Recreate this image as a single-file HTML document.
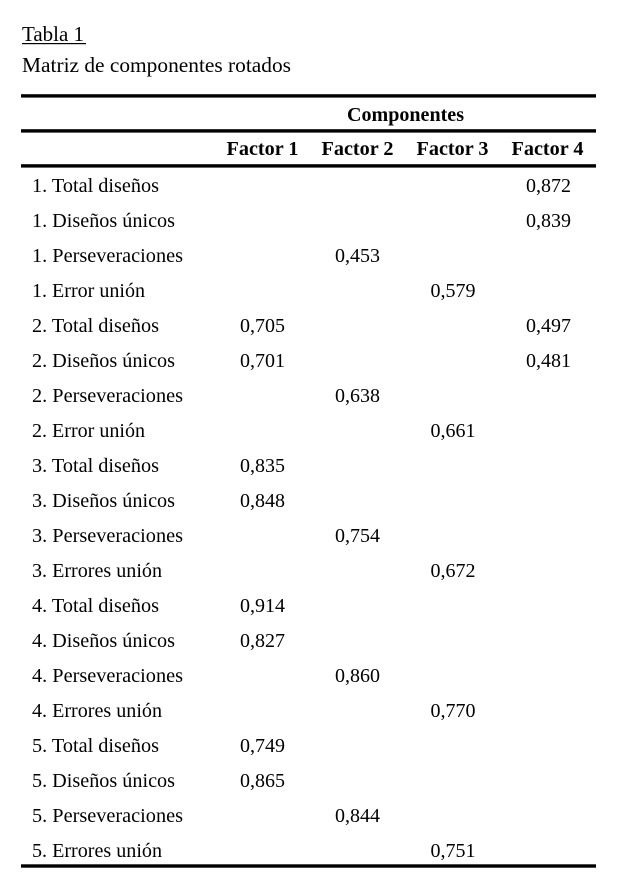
<!DOCTYPE html>
<html>
<head>
<meta charset="utf-8">
<style>
  html, body { margin:0; padding:0; background:#fff; }
  body { width:632px; height:887px; overflow:hidden; }
  svg { display:block; }
  text { font-family:"Liberation Serif", "Tinos", "Noto Serif CJK SC", "DejaVu Serif", serif; font-size:20px; fill:#000; }
  .b { font-weight:bold; }
  .m { text-anchor:middle; }
  .ti { font-size:21.5px; }
</style>
</head>
<body>
<svg width="632" height="887" viewBox="0 0 632 887" xmlns="http://www.w3.org/2000/svg">
  <rect x="0" y="0" width="632" height="887" fill="#fff"/>
  <text class="ti" x="22" y="41" textLength="62" lengthAdjust="spacingAndGlyphs">Tabla 1</text>
  <rect x="22" y="43" width="64" height="1.2" fill="#000"/>
  <text class="ti" x="22" y="72" textLength="269" lengthAdjust="spacingAndGlyphs">Matriz de componentes rotados</text>

  <rect x="21" y="94.2" width="575" height="3.4" fill="#000"/>
  <text class="b m" x="405.5" y="121" textLength="117" lengthAdjust="spacingAndGlyphs">Componentes</text>
  <rect x="21" y="129.2" width="575" height="3.4" fill="#000"/>
  <text class="b m" x="262.5" y="155" textLength="72" lengthAdjust="spacingAndGlyphs">Factor 1</text>
  <text class="b m" x="357.5" y="155" textLength="72" lengthAdjust="spacingAndGlyphs">Factor 2</text>
  <text class="b m" x="452.5" y="155" textLength="72" lengthAdjust="spacingAndGlyphs">Factor 3</text>
  <text class="b m" x="547.5" y="155" textLength="72" lengthAdjust="spacingAndGlyphs">Factor 4</text>
  <rect x="21" y="164.2" width="575" height="3.4" fill="#000"/>

  <!-- labels -->
  <text x="32" y="192" textLength="127" lengthAdjust="spacingAndGlyphs">1. Total diseños</text>
  <text x="32" y="227" textLength="143" lengthAdjust="spacingAndGlyphs">1. Diseños únicos</text>
  <text x="32" y="262" textLength="151" lengthAdjust="spacingAndGlyphs">1. Perseveraciones</text>
  <text x="32" y="297" textLength="113" lengthAdjust="spacingAndGlyphs">1. Error unión</text>
  <text x="32" y="332" textLength="127" lengthAdjust="spacingAndGlyphs">2. Total diseños</text>
  <text x="32" y="367" textLength="143" lengthAdjust="spacingAndGlyphs">2. Diseños únicos</text>
  <text x="32" y="402" textLength="151" lengthAdjust="spacingAndGlyphs">2. Perseveraciones</text>
  <text x="32" y="437" textLength="113" lengthAdjust="spacingAndGlyphs">2. Error unión</text>
  <text x="32" y="472" textLength="127" lengthAdjust="spacingAndGlyphs">3. Total diseños</text>
  <text x="32" y="507" textLength="143" lengthAdjust="spacingAndGlyphs">3. Diseños únicos</text>
  <text x="32" y="542" textLength="151" lengthAdjust="spacingAndGlyphs">3. Perseveraciones</text>
  <text x="32" y="577" textLength="130" lengthAdjust="spacingAndGlyphs">3. Errores unión</text>
  <text x="32" y="612" textLength="127" lengthAdjust="spacingAndGlyphs">4. Total diseños</text>
  <text x="32" y="647" textLength="143" lengthAdjust="spacingAndGlyphs">4. Diseños únicos</text>
  <text x="32" y="682" textLength="151" lengthAdjust="spacingAndGlyphs">4. Perseveraciones</text>
  <text x="32" y="717" textLength="130" lengthAdjust="spacingAndGlyphs">4. Errores unión</text>
  <text x="32" y="752" textLength="127" lengthAdjust="spacingAndGlyphs">5. Total diseños</text>
  <text x="32" y="787" textLength="143" lengthAdjust="spacingAndGlyphs">5. Diseños únicos</text>
  <text x="32" y="822" textLength="151" lengthAdjust="spacingAndGlyphs">5. Perseveraciones</text>
  <text x="32" y="857" textLength="130" lengthAdjust="spacingAndGlyphs">5. Errores unión</text>

  <!-- values -->
  <text class="m" x="548.5" y="192" textLength="45" lengthAdjust="spacingAndGlyphs">0,872</text>
  <text class="m" x="548.5" y="227" textLength="45" lengthAdjust="spacingAndGlyphs">0,839</text>
  <text class="m" x="357.5" y="262" textLength="45" lengthAdjust="spacingAndGlyphs">0,453</text>
  <text class="m" x="453" y="297" textLength="45" lengthAdjust="spacingAndGlyphs">0,579</text>
  <text class="m" x="262.5" y="332" textLength="45" lengthAdjust="spacingAndGlyphs">0,705</text>
  <text class="m" x="548.5" y="332" textLength="45" lengthAdjust="spacingAndGlyphs">0,497</text>
  <text class="m" x="262.5" y="367" textLength="45" lengthAdjust="spacingAndGlyphs">0,701</text>
  <text class="m" x="548.5" y="367" textLength="45" lengthAdjust="spacingAndGlyphs">0,481</text>
  <text class="m" x="357.5" y="402" textLength="45" lengthAdjust="spacingAndGlyphs">0,638</text>
  <text class="m" x="453" y="437" textLength="45" lengthAdjust="spacingAndGlyphs">0,661</text>
  <text class="m" x="262.5" y="472" textLength="45" lengthAdjust="spacingAndGlyphs">0,835</text>
  <text class="m" x="262.5" y="507" textLength="45" lengthAdjust="spacingAndGlyphs">0,848</text>
  <text class="m" x="357.5" y="542" textLength="45" lengthAdjust="spacingAndGlyphs">0,754</text>
  <text class="m" x="453" y="577" textLength="45" lengthAdjust="spacingAndGlyphs">0,672</text>
  <text class="m" x="262.5" y="612" textLength="45" lengthAdjust="spacingAndGlyphs">0,914</text>
  <text class="m" x="262.5" y="647" textLength="45" lengthAdjust="spacingAndGlyphs">0,827</text>
  <text class="m" x="357.5" y="682" textLength="45" lengthAdjust="spacingAndGlyphs">0,860</text>
  <text class="m" x="453" y="717" textLength="45" lengthAdjust="spacingAndGlyphs">0,770</text>
  <text class="m" x="262.5" y="752" textLength="45" lengthAdjust="spacingAndGlyphs">0,749</text>
  <text class="m" x="262.5" y="787" textLength="45" lengthAdjust="spacingAndGlyphs">0,865</text>
  <text class="m" x="357.5" y="822" textLength="45" lengthAdjust="spacingAndGlyphs">0,844</text>
  <text class="m" x="453" y="857" textLength="45" lengthAdjust="spacingAndGlyphs">0,751</text>

  <rect x="21" y="864.3" width="575" height="3.4" fill="#000"/>
</svg>
</body>
</html>
